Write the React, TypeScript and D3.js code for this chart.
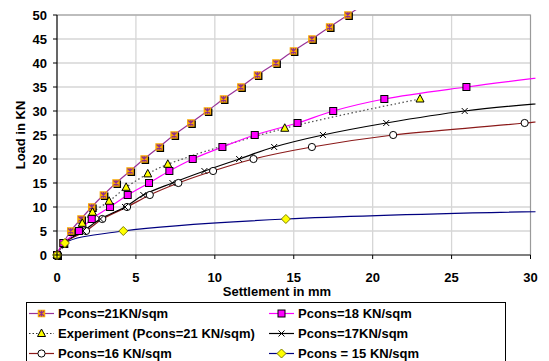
import React, { useRef, useEffect } from 'react'
import * as d3 from 'd3'

// Pcons = 21 KN/sqm
const settle21 = [0, 0.4, 0.87, 1.52, 2.2, 2.94, 3.74, 4.63, 5.52, 6.47, 7.42, 8.48, 9.53, 10.55, 11.65, 12.7, 13.87, 14.98, 16.15, 17.27, 18.43, 19.6]
const load21 = [0, 2.5, 5, 7.5, 10, 12.5, 15, 17.5, 20, 22.5, 25, 27.5, 30, 32.5, 35, 37.5, 40, 42.5, 45, 47.5, 50, 52.5]
// Pcons = 18 KN/sqm
const settle18 = [0, 0.4, 1.39, 2.2, 3.36, 4.48, 5.83, 7.12, 8.6, 10.48, 12.53, 15.24, 17.5, 20.74, 25.94, 32.0]
const load18 = [0, 2.5, 5, 7.5, 10, 12.5, 15, 17.5, 20, 22.5, 25, 27.5, 30, 32.5, 35, 37.5]
// Experiment
const settleExp = [0, 1.6, 2.25, 3.3, 4.38, 5.75, 7.02, 14.43, 23.0]
const loadExp = [0, 6.6, 8.9, 11.2, 14.1, 16.9, 18.9, 26.4, 32.5]
// Pcons = 17 KN/sqm
const settle17 = [0, 0.45, 1.65, 2.75, 4.31, 5.47, 7.31, 9.34, 11.54, 13.76, 16.85, 20.86, 25.83, 34.0]
const load17 = [0, 2.5, 5, 7.5, 10, 12.5, 15, 17.5, 20, 22.5, 25, 27.5, 30, 32.5]
// Pcons = 16 KN/sqm
const settle16 = [0, 0.45, 1.84, 2.87, 4.44, 5.88, 7.69, 9.89, 12.45, 16.15, 21.3, 29.63, 36.0]
const load16 = [0, 2.5, 5, 7.5, 10, 12.5, 15, 17.5, 20, 22.5, 25, 27.5, 30]
// Pcons = 15 KN/sqm
const settle15 = [0, 0.5, 4.2, 14.5, 46.0]
const load15 = [0, 2.5, 5, 7.5, 10]

const xTicks = [0, 5, 10, 15, 20, 25, 30]
const yTicks = [0, 5, 10, 15, 20, 25, 30, 35, 40, 45, 50]

const font = '"Liberation Sans", Arial, sans-serif'

export default function App() {
  const canvas = useRef(null)

  useEffect(() => {
    const svg = d3.select(canvas.current)
    svg.selectAll('*').remove()

    const x = d3.scaleLinear().domain([0, 30]).range([57, 530.5])
    const y = d3.scaleLinear().domain([0, 50]).range([255, 15])

    svg.append('rect').attr('width', 549).attr('height', 361).attr('fill', '#fff')

    // grid
    const grid = svg.append('g')
    grid.selectAll('.hg').data(yTicks.slice(1)).enter().append('line')
      .attr('x1', x(0)).attr('x2', x(30)).attr('y1', d => y(d)).attr('y2', d => y(d))
      .attr('stroke', '#d6d6d6').attr('stroke-width', 1.3)
    grid.selectAll('.vg').data(xTicks.slice(1, -1)).enter().append('line')
      .attr('y1', y(0)).attr('y2', y(50)).attr('x1', d => x(d)).attr('x2', d => x(d))
      .attr('stroke', '#d6d6d6').attr('stroke-width', 1.3)
    // plot border top/right
    svg.append('path').attr('d', `M${x(0)},${y(50)}H${x(30)}V${y(0)}`)
      .attr('fill', 'none').attr('stroke', '#9a9a9a').attr('stroke-width', 1.2)

    svg.append('clipPath').attr('id', 'plotclip').append('rect')
      .attr('x', x(0) - 3).attr('y', 10).attr('width', x(30) - x(0) + 8).attr('height', 250)

    const line = d3.line<[number, number]>().x(d => x(d[0])).y(d => y(d[1])).curve(d3.curveCatmullRom)
    const zip = (a: number[], b: number[]) => a.map((v, i) => [v, b[i]] as [number, number])

    const series = [
      { sx: settle15, ly: load15, color: '#000080', dash: null, w: 1.2 },
      { sx: settle16, ly: load16, color: '#8b1a1a', dash: null, w: 1.2 },
      { sx: settle17, ly: load17, color: '#000', dash: null, w: 1.2 },
      { sx: settleExp, ly: loadExp, color: '#555', dash: '1.5,2.5', w: 1.3 },
      { sx: settle18, ly: load18, color: '#ff00ff', dash: null, w: 1.2 },
      { sx: settle21, ly: load21, color: '#993399', dash: null, w: 1.2 },
    ]
    const lines = svg.append('g').attr('clip-path', 'url(#plotclip)')
    series.forEach(s => {
      lines.append('path').datum(zip(s.sx, s.ly)).attr('d', line)
        .attr('fill', 'none').attr('stroke', s.color).attr('stroke-width', s.w)
        .attr('stroke-dasharray', s.dash)
    })

    // marker painters
    const mk = {
      diamond: (g: any, cx: number, cy: number) => {
        g.append('path').attr('d', `M${cx},${cy - 4.5}L${cx + 4.5},${cy}L${cx},${cy + 4.5}L${cx - 4.5},${cy}Z`)
          .attr('fill', '#ffff00').attr('stroke', '#808000').attr('stroke-width', 1)
      },
      circle: (g: any, cx: number, cy: number) => {
        g.append('circle').attr('cx', cx).attr('cy', cy).attr('r', 3.6)
          .attr('fill', '#fff').attr('stroke', '#000').attr('stroke-width', 1)
      },
      cross: (g: any, cx: number, cy: number) => {
        g.append('path').attr('d', `M${cx - 3},${cy - 3}L${cx + 3},${cy + 3}M${cx - 3},${cy + 3}L${cx + 3},${cy - 3}`)
          .attr('stroke', '#000').attr('stroke-width', 1)
      },
      triangle: (g: any, cx: number, cy: number) => {
        g.append('path').attr('d', `M${cx},${cy - 4.5}L${cx + 4},${cy + 3}L${cx - 4},${cy + 3}Z`)
          .attr('fill', '#ffff00').attr('stroke', '#000').attr('stroke-width', 1)
      },
      square: (g: any, cx: number, cy: number) => {
        g.append('rect').attr('x', cx - 3.5).attr('y', cy - 3.5).attr('width', 7).attr('height', 7)
          .attr('fill', '#ff00ff').attr('stroke', '#000').attr('stroke-width', 1)
      },
      star: (g: any, cx: number, cy: number, shadow = true) => {
        if (shadow) g.append('rect').attr('x', cx - 2.5).attr('y', cy - 2.5).attr('width', 7.5).attr('height', 7.5).attr('fill', '#000')
        g.append('rect').attr('x', cx - 3.75).attr('y', cy - 3.75).attr('width', 7.5).attr('height', 7.5).attr('fill', '#f7a800')
        g.append('path').attr('d', `M${cx - 2.5},${cy - 2.5}L${cx + 2.5},${cy + 2.5}M${cx - 2.5},${cy + 2.5}L${cx + 2.5},${cy - 2.5}M${cx},${cy - 3}V${cy + 3}`)
          .attr('stroke', '#8e2d8e').attr('stroke-width', 1.1)
      },
    }

    const marks = svg.append('g')
    const plotPts = (sx: number[], ly: number[], fn: any) => {
      sx.forEach((v, i) => { if (v <= 30 && ly[i] <= 50) fn(marks, x(v), y(ly[i])) })
    }
    plotPts(settle21, load21, mk.star)
    plotPts(settle16, load16, mk.circle)
    plotPts(settle17, load17, mk.cross)
    plotPts(settle18, load18, mk.square)
    plotPts(settleExp, loadExp, mk.triangle)
    plotPts(settle15, load15, mk.diamond)

    // axes
    svg.append('line').attr('x1', x(0)).attr('x2', x(0)).attr('y1', y(50)).attr('y2', y(0)).attr('stroke', '#000').attr('stroke-width', 1.2)
    svg.append('line').attr('x1', x(0)).attr('x2', x(30)).attr('y1', y(0)).attr('y2', y(0)).attr('stroke', '#000').attr('stroke-width', 1.2)
    const yAx = svg.append('g')
    yTicks.forEach(t => {
      yAx.append('line').attr('x1', x(0) - 4).attr('x2', x(0)).attr('y1', y(t)).attr('y2', y(t)).attr('stroke', '#000')
      yAx.append('text').attr('x', 47).attr('y', y(t)).attr('dy', '0.36em').attr('text-anchor', 'end').text(t)
    })
    const xAx = svg.append('g')
    xTicks.forEach(t => {
      xAx.append('line').attr('x1', x(t)).attr('x2', x(t)).attr('y1', y(0)).attr('y2', y(0) + 4).attr('stroke', '#000')
      xAx.append('text').attr('x', x(t)).attr('y', 281.5).attr('text-anchor', 'middle').text(t)
    })
    svg.selectAll('text').attr('font-family', font).attr('font-weight', 'bold').attr('font-size', 13).attr('fill', '#000')

    svg.append('text').attr('x', 277).attr('y', 296).attr('text-anchor', 'middle').text('Settlement in mm')
      .attr('font-family', font).attr('font-weight', 'bold').attr('font-size', 13)
    svg.append('text').attr('transform', 'translate(25,135) rotate(-90)').attr('text-anchor', 'middle').text('Load in KN')
      .attr('font-family', font).attr('font-weight', 'bold').attr('font-size', 13)

    // legend
    const lg = svg.append('g')
    lg.append('rect').attr('x', 26.5).attr('y', 302.5).attr('width', 479).attr('height', 70)
      .attr('fill', '#fff').attr('stroke', '#000').attr('stroke-width', 1)
    const entries = [
      { label: 'Pcons=21KN/sqm', col: 0, row: 0, color: '#993399', dash: null, m: (g: any, cx: number, cy: number) => mk.star(g, cx, cy, false) },
      { label: 'Pcons=18 KN/sqm', col: 1, row: 0, color: '#ff00ff', dash: null, m: mk.square },
      { label: 'Experiment (Pcons=21 KN/sqm)', col: 0, row: 1, color: '#333', dash: '1.5,2', m: mk.triangle },
      { label: 'Pcons=17KN/sqm', col: 1, row: 1, color: '#000', dash: null, m: mk.cross },
      { label: 'Pcons=16 KN/sqm', col: 0, row: 2, color: '#8b1a1a', dash: null, m: mk.circle },
      { label: 'Pcons = 15 KN/sqm', col: 1, row: 2, color: '#000080', dash: null, m: mk.diamond },
    ]
    entries.forEach(e => {
      const lx = e.col === 0 ? 29 : 269
      const cy = 313.5 + e.row * 20
      lg.append('line').attr('x1', lx).attr('x2', lx + 25).attr('y1', cy).attr('y2', cy)
        .attr('stroke', e.color).attr('stroke-width', 1.2).attr('stroke-dasharray', e.dash)
      e.m(lg, lx + 12.5, cy)
      lg.append('text').attr('x', lx + 29).attr('y', cy + 4.7).text(e.label)
        .attr('font-family', font).attr('font-weight', 'bold').attr('font-size', 13)
    })
  }, [])

  return (
    <svg ref={canvas} width={549} height={361} style={{ position: 'absolute', left: 0, top: 0 }} />
  )
}
